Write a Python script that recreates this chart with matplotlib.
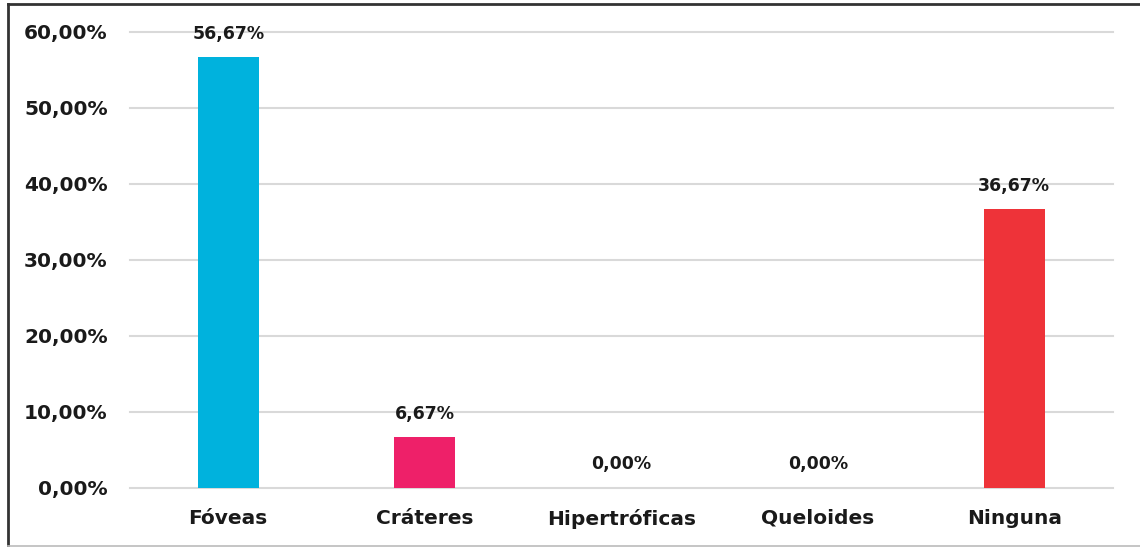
import matplotlib.pyplot as plt
from matplotlib.lines import Line2D

categorias = ["Fóveas", "Cráteres", "Hipertróficas", "Queloides", "Ninguna"]
porcentajes = [56.67, 6.67, 0.0, 0.0, 36.67]
colores = ["#00B2DD", "#EE2069", "#00B2DD", "#00B2DD", "#EE3339"]

plt.rcParams['font.family'] = ['DejaVu Sans']
plt.rcParams['font.weight'] = 'bold'

fig = plt.figure(figsize=(11.4, 5.47), dpi=100)
ax = fig.add_axes([0.114, 0.108, 0.862, 0.834])

x = range(len(categorias))
ax.bar(x, porcentajes, width=0.31, color=colores, zorder=3)

for i, v in zip(x, porcentajes):
    ax.text(i, v + 1.9, f"{v:.2f}%".replace(".", ","), ha='center', va='bottom',
            fontsize=12.5, fontweight='bold', color='#1a1a1a', clip_on=False)

ax.set_xlim(-0.5, len(categorias) - 0.5)
ax.set_ylim(0, 60)
ax.set_yticks(range(0, 61, 10))
ax.set_yticklabels([f"{t},00%" for t in range(0, 61, 10)])
ax.set_xticks(list(x))
ax.set_xticklabels(categorias)
ax.tick_params(axis='both', length=0, labelsize=14.5, colors='#1a1a1a')
ax.tick_params(axis='y', pad=16)
ax.tick_params(axis='x', pad=15)
for lab in ax.get_xticklabels() + ax.get_yticklabels():
    lab.set_fontweight('bold')

ax.grid(axis='y', color='#d9d9d9', linewidth=1.5, zorder=0)
for gl in ax.get_ygridlines():
    gl.set_clip_on(False)
for s in ax.spines.values():
    s.set_visible(False)

# marco exterior
fig.add_artist(Line2D([8/1140, 8/1140], [0, 1 - 4/547], color='#333333', lw=2))
fig.add_artist(Line2D([8/1140, 1], [1 - 4/547, 1 - 4/547], color='#333333', lw=2))
fig.add_artist(Line2D([8/1140, 1], [1/547, 1/547], color='#bbbbbb', lw=1.2))

fig.savefig("out.png", dpi=100)
